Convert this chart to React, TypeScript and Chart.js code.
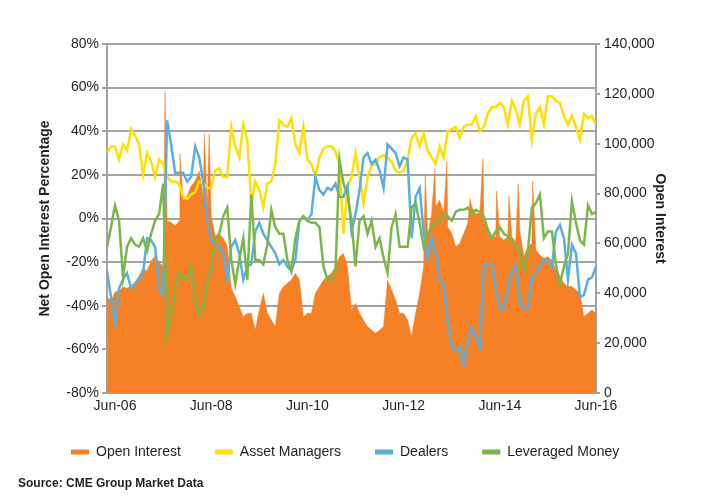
import React, { useEffect, useRef } from 'react';
import { Chart, registerables } from 'chart.js';

Chart.register(...registerables);

// Monthly points, Apr-06 (index 0) .. Jun-16 (index 122)
const tickPositions = [2, 26, 50, 74, 98, 122];
const tickLabels = ['Jun-06', 'Jun-08', 'Jun-10', 'Jun-12', 'Jun-14', 'Jun-16'];

const assetManagers = [
  30, 33, 33, 27, 34, 31, 41, 38, 34, 20,
  30, 26, 19, 27, 25, 19, 17, 17, 16, 10,
  9, 11, 12, 17, 16, 14, 14, 22, 23, 19,
  19, 42, 33, 28, 43, 36, 7, 17, 13, 5,
  16, 17, 25, 45, 43, 42, 46, 34, 30, 42,
  27, 25, 19, 28, 32, 33, 33, 31, 24, -7,
  14, 19, 30, 19, 7, 19, 24, 25, 28, 29,
  28, 26, 22, 21, 22, 27, 37, 39, 33, 39,
  31, 28, 25, 33, 28, 40, 41, 42, 37, 42,
  43, 43, 47, 40, 42, 48, 51, 51, 53, 51,
  43, 54, 50, 43, 54, 56, 36, 48, 51, 43,
  56, 56, 54, 53, 47, 43, 47, 42, 36, 48,
  46, 47, 43,
];

const dealers = [
  -24, -36, -48, -32, -28, -25, -32, -30, -28, -25,
  -9, -10, -13, -32, -35, 45, 34, 21, 21, 21,
  17, 19, 33, 28, 17, -1, -10, -12, -13, -16,
  -28, -13, -10, -16, -28, -22, -21, -6, -2, -7,
  -10, -13, -16, -21, -19, -22, -24, -19, -1, 1,
  -1, 2, 19, 13, 11, 14, 13, 16, 10, 10,
  15, -6, 2, 13, 28, 30, 25, 27, 22, 14,
  34, 32, 30, 24, 28, 27, -9, 10, 14, -6,
  -18, -9, -16, -28, -30, -47, -58, -61, -59, -67,
  -56, -50, -54, -59, -22, -21, -21, -32, -41, -41,
  -33, -24, -22, -38, -41, -41, -27, -25, -22, -19,
  -19, -22, -6, -3, -9, -28, -12, -16, -36, -35,
  -28, -27, -22,
];

const leveragedMoney = [
  -13, -4, 6, -1, -27, -13, -9, -12, -13, -9,
  -15, -7, -1, 2, 16, -53, -44, -32, -25, -27,
  -28, -22, -36, -44, -41, -28, -24, -10, -7, 1,
  5, -19, -30, -19, -9, -28, 11, -19, -19, -21,
  -12, 4, -4, -7, -7, -19, -24, -9, -1, 1,
  -1, -2, -2, -4, -22, -28, -28, -24, 27, 16,
  11, -1, -22, -1, 1, -7, -1, -13, -9, -18,
  -25, -4, 2, -13, -13, -13, 5, 7, -2, -13,
  -7, -4, -2, -1, 2, 1, -1, 3, 4, 4,
  5, 2, 4, 3, 1, -5, -9, -6, -4, -7,
  -8, -10, -13, -15, -24, -15, 5, 7, 11, -9,
  -6, -6, -21, -30, -22, -16, 8, -2, -10, -12,
  6, 2, 3,
];

const openInterest = [
  38500, 37000, 40500, 41000, 42500, 42000, 43000, 44500, 47000, 50000,
  49000, 53000, 55000, 52500, 51000, 69000, 68500, 67000, 69000, 77000,
  79000, 83000, 85000, 89000, 79000, 75000, 71000, 63000, 64000, 62000,
  59000, 42000, 38600, 34600, 30600, 32000, 32000, 25300, 33300, 40000,
  32000, 29300, 26600, 40000, 42600, 44000, 45300, 48000, 45300, 30600,
  32000, 32000, 40000, 42600, 45300, 46700, 48000, 50700, 54700, 56000,
  50700, 33300, 36000, 32000, 29300, 26600, 25300, 24000, 25300, 26600,
  45300, 41300, 37300, 32000, 32000, 29300, 22700, 32000, 40000, 50700,
  62700, 72000, 74700, 77400, 72000, 66700, 64000, 58700, 60000, 64000,
  68000, 74700, 72000, 72000, 71400, 65400, 62700, 62700, 62700, 61400,
  62700, 62700, 60700, 65400, 54700, 58700, 60000, 57400, 55400, 54000,
  54700, 53300, 49300, 46700, 44000, 42700, 42700, 41300, 40000, 30600,
  32000, 33300, 32000,
];

// Short-lived open interest spikes (contract roll weeks): [month position, value]
const openInterestSpikes: [number, number][] = [
  [14.5, 121000], [18.2, 96000], [24.3, 104000], [25.5, 104000],
  [79.4, 88000], [81.8, 90000], [84.8, 93000], [90.6, 78000],
  [93.8, 94000], [97.2, 81000], [100.3, 79000], [102.6, 84000], [106.2, 85000],
];

const ORANGE = '#F58025';
const YELLOW = '#FFE000';
const BLUE = '#5AAFE0';
const GREEN = '#7AB648';
const GRAY = '#a3a3a3';
const TEXT = '#231f20';
const FONT = "'Liberation Sans', Arial, sans-serif";

export default function App() {
  const canvasRef = useRef<HTMLCanvasElement | null>(null);

  useEffect(() => {
    if (!canvasRef.current) return;
    Chart.defaults.font.family = FONT;
    Chart.defaults.color = TEXT;

    const toPoints = (arr: number[]) => arr.map((y, i) => ({ x: i, y }));
    const oiPoints = [
      ...toPoints(openInterest),
      ...openInterestSpikes.map(([x, y]) => ({ x, y })),
    ].sort((a, b) => a.x - b.x);

    const chart = new Chart(canvasRef.current, {
      type: 'line',
      data: {
        datasets: [
          {
            label: 'Open Interest',
            data: oiPoints,
            yAxisID: 'y1',
            borderColor: ORANGE,
            backgroundColor: ORANGE,
            borderWidth: 0.5,
            fill: 'origin',
            pointRadius: 0,
            order: 4,
          },
          {
            label: 'Asset Managers',
            data: toPoints(assetManagers),
            yAxisID: 'y',
            borderColor: YELLOW,
            backgroundColor: YELLOW,
            borderWidth: 2.5,
            fill: false,
            pointRadius: 0,
            order: 3,
          },
          {
            label: 'Dealers',
            data: toPoints(dealers),
            yAxisID: 'y',
            borderColor: BLUE,
            backgroundColor: BLUE,
            borderWidth: 2.5,
            fill: false,
            pointRadius: 0,
            order: 2,
          },
          {
            label: 'Leveraged Money',
            data: toPoints(leveragedMoney),
            yAxisID: 'y',
            borderColor: GREEN,
            backgroundColor: GREEN,
            borderWidth: 2.5,
            fill: false,
            pointRadius: 0,
            order: 1,
          },
        ],
      },
      options: {
        animation: false,
        responsive: false,
        maintainAspectRatio: false,
        layout: { padding: { left: 37, right: 52, top: 44, bottom: 31 } },
        plugins: {
          tooltip: { enabled: false },
          legend: {
            position: 'bottom',
            align: 'start',
            labels: {
              boxWidth: 18,
              boxHeight: 5,
              padding: 34,
              color: TEXT,
              font: { size: 14, family: FONT },
              generateLabels: (c: any) =>
                c.data.datasets.map((ds: any, i: number) => ({
                  text: ds.label,
                  fillStyle: ds.borderColor,
                  strokeStyle: ds.borderColor,
                  lineWidth: 0,
                  hidden: false,
                  datasetIndex: i,
                  fontColor: TEXT,
                })),
            },
          },
        },
        scales: {
          x: {
            type: 'linear',
            min: 0,
            max: 122,
            afterBuildTicks: (axis: any) => {
              axis.ticks = tickPositions.map((v) => ({ value: v }));
            },
            ticks: {
              autoSkip: false,
              maxRotation: 0,
              padding: 5,
              color: TEXT,
              font: { size: 14 },
              callback: (v: any) => {
                const k = tickPositions.indexOf(Number(v));
                return k >= 0 ? tickLabels[k] : '';
              },
            },
            grid: { display: false, drawTicks: false },
            border: { display: true, color: GRAY, width: 2 },
            afterFit: (s: any) => {
              s.height = 18;
            },
          },
          y: {
            position: 'left',
            min: -80,
            max: 80,
            ticks: {
              stepSize: 20,
              padding: 3,
              color: TEXT,
              font: { size: 14 },
              callback: (v: any) => v + '%',
            },
            grid: { color: GRAY, lineWidth: 2, tickLength: 5 },
            border: { display: true, color: GRAY, width: 2 },
            title: {
              display: true,
              text: 'Net Open Interest Percentage',
              color: TEXT,
              padding: 0,
              font: { size: 14, weight: 'bold' },
            },
            afterFit: (s: any) => {
              s.width = 70;
            },
          },
          y1: {
            position: 'right',
            min: 0,
            max: 140000,
            ticks: {
              stepSize: 20000,
              padding: 4,
              color: TEXT,
              font: { size: 14 },
              callback: (v: any) => Number(v).toLocaleString('en-US'),
            },
            grid: { drawOnChartArea: false, color: GRAY, lineWidth: 2, tickLength: 4 },
            border: { display: true, color: GRAY, width: 2 },
            title: {
              display: true,
              text: 'Open Interest',
              color: TEXT,
              padding: 0,
              font: { size: 14, weight: 'bold' },
            },
            afterFit: (s: any) => {
              s.width = 72;
            },
          },
        },
      } as any,
    });

    return () => chart.destroy();
  }, []);

  return (
    <div style={{ position: 'fixed', left: 0, top: 0, width: 720, height: 500, background: '#fff' }}>
      <canvas ref={canvasRef} width={720} height={500} style={{ display: 'block' }} />
      <div
        style={{
          position: 'absolute',
          left: 18,
          top: 476,
          fontFamily: FONT,
          fontWeight: 'bold',
          fontSize: 12,
          lineHeight: '14px',
          color: TEXT,
          whiteSpace: 'nowrap',
        }}
      >
        Source: CME Group Market Data
      </div>
    </div>
  );
}
